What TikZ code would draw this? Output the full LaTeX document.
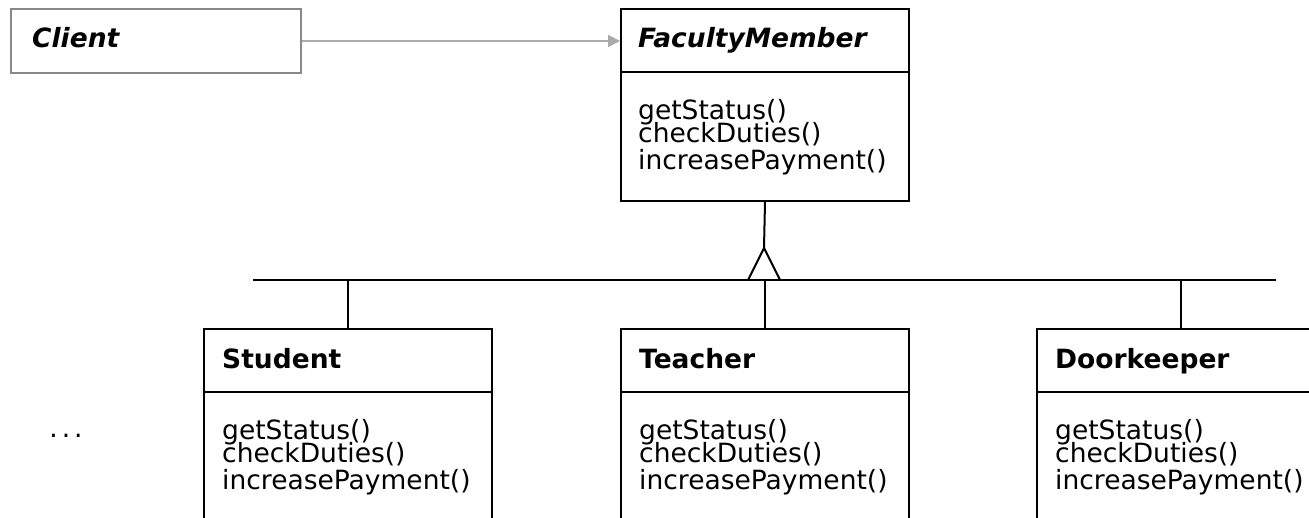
\documentclass[tikz,border=0pt]{standalone}
\usepackage{fontspec}
\setmainfont{DejaVu Sans}
\usetikzlibrary{arrows.meta}
\definecolor{boxgray}{HTML}{888888}
\definecolor{linkgray}{HTML}{AAAAAA}
\newcommand{\tightlines}{\setlength{\lineskiplimit}{-50pt}}
\tikzset{
  umlbox/.style={draw=black,line width=2pt,minimum width=288pt,anchor=north west,inner sep=0pt},
  umltitle/.style={anchor=base west,inner sep=0pt,font=\fontsize{26.5}{24}\selectfont\bfseries},
  % base = baseline of the last line
  umlops/.style={anchor=base west,inner sep=0pt,align=left,
    font={\fontsize{26.5}{23}\selectfont\tightlines}},
  link/.style={line width=2pt},
}
\newcommand{\ops}{getStatus()\\checkDuties()\\[4pt]increasePayment()}
\begin{document}
\begin{tikzpicture}[x=1pt,y=-1pt]
\useasboundingbox (0,0) rectangle (1309,518);
\clip (0,0) rectangle (1309,518);

% Client
\begin{scope}[shift={(10,8)}]
\node[umlbox,draw=boxgray,minimum width=290pt,minimum height=64pt] (client) at (0,0) {};
\node[umltitle,font=\fontsize{26.5}{24}\selectfont\bfseries\itshape] (clientT) at (22,40) {Client};
\end{scope}

% FacultyMember
\begin{scope}[shift={(620,8)}]
\node[umlbox,minimum height=192pt] (faculty) at (0,0) {};
\draw[link] (0,64) -- (288,64);
\node[umltitle,font=\fontsize{26.5}{24}\selectfont\bfseries\itshape] (facultyT) at (18,40) {FacultyMember};
\node[umlops] (facultyOps) at (18,162) {\ops};
\end{scope}

% Student
\begin{scope}[shift={(203,328)}]
\node[umlbox,minimum height=260pt] (student) at (0,0) {};
\draw[link] (0,64) -- (289,64);
\node[umltitle] (studentT) at (19,41) {Student};
\node[umlops] (studentOps) at (19,161) {\ops};
\end{scope}

% Teacher
\begin{scope}[shift={(620,328)}]
\node[umlbox,minimum height=260pt] (teacher) at (0,0) {};
\draw[link] (0,64) -- (288,64);
\node[umltitle] (teacherT) at (19,41) {Teacher};
\node[umlops] (teacherOps) at (19,161) {\ops};
\end{scope}

% Doorkeeper
\begin{scope}[shift={(1036,328)}]
\node[umlbox,minimum height=260pt] (doorkeeper) at (0,0) {};
\draw[link] (0,64) -- (288,64);
\node[umltitle] (doorkeeperT) at (19,41) {Doorkeeper};
\node[umlops] (doorkeeperOps) at (19,161) {\ops};
\end{scope}

\node[umlops,anchor=base] (more) at (66,437) {.\hspace{4pt}.\hspace{4pt}.};

% association
\draw[link,linkgray,-{Triangle[length=12pt,width=12pt]}] (client.east) -- (client.east -| faculty.west);

% generalization
\coordinate (busL) at (253,280);
\coordinate (busR) at (1276,280);
\coordinate (apex) at (764,248);
\draw[link] (busL) -- (busR);
\draw[link] (faculty.south) -- (apex);
\draw[link] (apex) ++(-16,32) -- (apex) -- ++(16,32);
\foreach \c in {student,teacher,doorkeeper}
  \draw[link] (\c.north) -- (\c.north |- busL);
\end{tikzpicture}
\end{document}
